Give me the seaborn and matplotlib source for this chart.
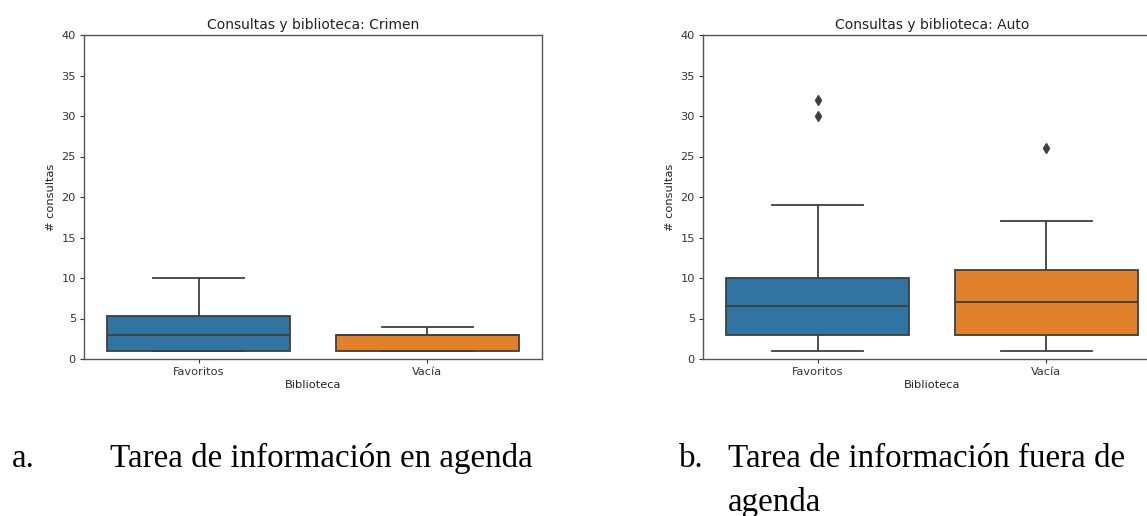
import matplotlib
matplotlib.use("Agg")
import matplotlib.pyplot as plt
import seaborn as sns
import pandas as pd

# ---- data ----
categories = ["Favoritos", "Vacía"]

crimen_favoritos = [1, 1, 1, 1, 2, 3, 3, 4, 5, 6, 8, 10]
crimen_vacia = [1, 1, 1, 2, 3, 3, 3, 3, 4]

auto_favoritos = [1, 2, 2, 3, 3, 3, 4, 5, 6, 7, 8, 9, 10, 10, 12, 19, 30, 32]
auto_vacia = [1, 2, 3, 3, 3, 4, 5, 6, 7, 8, 9, 10, 11, 12, 14, 17, 26]

titles = ["Consultas y biblioteca: Crimen", "Consultas y biblioteca: Auto"]
x_label = "Biblioteca"
y_label = "# consultas"
y_ticks = [0, 5, 10, 15, 20, 25, 30, 35, 40]

captions_letter = ["a.", "b."]
captions_line1 = ["Tarea de información en agenda", "Tarea de información fuera de"]
captions_line2 = ["", "agenda"]

palette = ["#1f77b4", "#ff7f0e"]


def long_df(fav, vac):
    return pd.DataFrame({
        "Biblioteca": [categories[0]] * len(fav) + [categories[1]] * len(vac),
        "consultas": list(fav) + list(vac),
    })


datasets = [long_df(crimen_favoritos, crimen_vacia), long_df(auto_favoritos, auto_vacia)]

W, H = 1147, 516
fig = plt.figure(figsize=(W / 100, H / 100), dpi=100)

ax_left_px = [84.3, 703.3]
ax_w_px = 457.4
ax_top_px = 35.0
ax_bot_px = 359.0

for i, df in enumerate(datasets):
    ax = fig.add_axes([ax_left_px[i] / W, (H - ax_bot_px) / H,
                       ax_w_px / W, (ax_bot_px - ax_top_px) / H])
    sns.boxplot(data=df, x="Biblioteca", y="consultas", hue="Biblioteca",
                order=categories, hue_order=categories, palette=palette,
                saturation=0.75, legend=False, ax=ax, width=0.8,
                linecolor="#3f3f3f", linewidth=1.3,
                flierprops=dict(marker="d", markerfacecolor="#3f3f3f",
                                markeredgecolor="#3f3f3f", markersize=5))
    ax.set_ylim(0, 40)
    ax.set_yticks(y_ticks)
    ax.set_xlim(-0.5, 1.5)
    ax.set_title(titles[i], fontsize=10, pad=4, color="#222222")
    ax.set_xlabel(x_label, fontsize=8.2, labelpad=2, color="#222222")
    ax.set_ylabel(y_label, fontsize=8.2, labelpad=4, color="#222222")
    ax.tick_params(labelsize=8.2, length=3, pad=3, colors="#333333")
    for s in ax.spines.values():
        s.set_color("#555555")
        s.set_linewidth(1.0)

serif = "Liberation Serif"
cap_size = 23.8
# left caption
fig.text(12 / W, (H - 467) / H, captions_letter[0], family=serif, fontsize=cap_size,
         ha="left", va="baseline")
fig.text(110 / W, (H - 467) / H, captions_line1[0], family=serif, fontsize=cap_size,
         ha="left", va="baseline")
# right caption
fig.text(679 / W, (H - 467) / H, captions_letter[1], family=serif, fontsize=cap_size,
         ha="left", va="baseline")
fig.text(728 / W, (H - 467) / H, captions_line1[1], family=serif, fontsize=cap_size,
         ha="left", va="baseline")
fig.text(728 / W, (H - 510.7) / H, captions_line2[1], family=serif, fontsize=cap_size,
         ha="left", va="baseline")

fig.savefig("out.png", dpi=100, facecolor="white")
